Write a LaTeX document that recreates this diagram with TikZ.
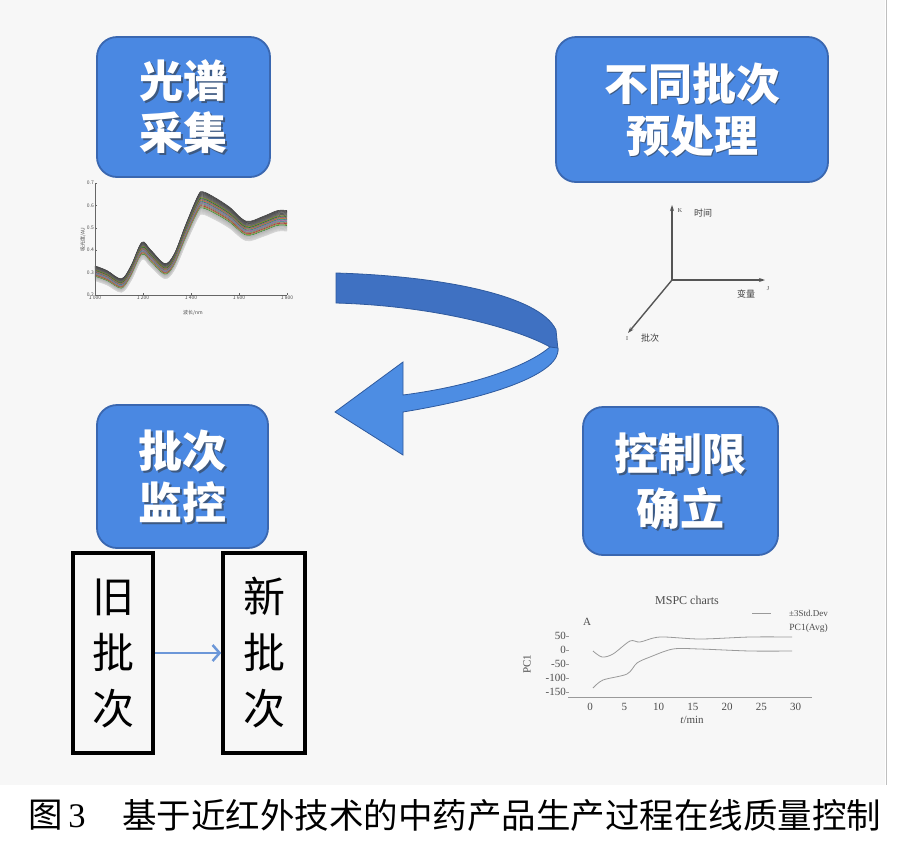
\documentclass[tikz,border=0pt]{standalone}
\usepackage{fontspec}
\usetikzlibrary{arrows.meta}
\newfontfamily\cjk{Noto Sans CJK SC}
\newfontfamily\serifA{Liberation Serif}
\definecolor{boxblue}{HTML}{4A88E2}
\definecolor{boxedge}{HTML}{3A67B0}
\definecolor{arrdark}{HTML}{3F71C2}
\definecolor{arrlight}{HTML}{4D8DE3}
\definecolor{arredge}{HTML}{2F5A9E}
\definecolor{thinblue}{HTML}{6C97D8}
\definecolor{chartgray}{HTML}{9A9A9A}
\definecolor{axgray}{HTML}{555555}
\begin{document}
\begin{tikzpicture}[x=1pt,y=-1pt,
  bluebox/.style={draw=boxedge, line width=1.8pt, fill=boxblue, rounded corners=20pt, inner sep=0pt},
  titletxt/.style={font=\cjk\bfseries\fontsize{44}{52}\selectfont, text=white, align=center, inner sep=0pt},
  titleshadow/.style={titletxt, text=black!80, opacity=0.55},
  batchbox/.style={draw=black, line width=3.5pt, minimum width=80pt, minimum height=200pt, inner sep=0pt},
  batchtxt/.style={font=\cjk\fontsize{42}{56}\selectfont, align=center, inner sep=0pt},
  tinylab/.style={font=\cjk\fontsize{5}{5}\selectfont, text=black!70, inner sep=1pt},
  axlab/.style={font=\cjk\fontsize{9}{9}\selectfont, text=black!75, inner sep=0pt},
  axletter/.style={font=\serifA\fontsize{6}{6}\selectfont, text=black!75, inner sep=0pt},
  chartlab/.style={font=\serifA\fontsize{11}{11}\selectfont, text=black!70, inner sep=0pt},
  chartline/.style={draw=chartgray, line width=0.8pt},
  axarrow/.style={draw=axgray, line width=1.4pt, -{Stealth[length=6pt,width=4pt]}},
  captxt/.style={inner sep=0pt, anchor=west, font=\cjk\fontsize{34.5}{36}\selectfont}
]
\useasboundingbox (0,0) rectangle (900,847);
% background
\fill[black!3] (0,0) rectangle (885,785);
\draw[black!25, line width=1pt] (886,0) -- (886,785);

% ---- blue title boxes ----
\node[bluebox, minimum width=173pt, minimum height=140pt] (b1) at (183.5,107) {};
\node[titleshadow] (s1) at ([shift={(1.5,1.8)}]b1.center) {光谱\\采集};
\node[titletxt] (t1) at (b1.center) {光谱\\采集};

\node[bluebox, minimum width=272pt, minimum height=145pt] (b2) at (692,109.5) {};
\node[titleshadow] (s2) at ([shift={(1.5,1.8)}]b2.center) {不同批次\\预处理};
\node[titletxt] (t2) at (b2.center) {不同批次\\预处理};

\node[bluebox, minimum width=171pt, minimum height=143pt] (b3) at (182.5,476.5) {};
\node[titleshadow] (s3) at ([shift={(1.5,1.8)}]b3.center) {批次\\监控};
\node[titletxt] (t3) at (b3.center) {批次\\监控};

\node[bluebox, minimum width=195pt, minimum height=148pt] (b4) at (680.5,481) {};
\node[titleshadow] (s4) at ([shift={(1.5,1.8)}]b4.center) {控制限\\[3pt]确立};
\node[titletxt] (t4) at (b4.center) {控制限\\[3pt]确立};

% ---- curved arrow ----
\fill[arrdark, draw=arredge, line width=0.8pt]
  (336,273) .. controls (440,276) and (540,295) .. (556,330) -- (558,350)
  -- (550,347) .. controls (520,330) and (440,306) .. (336,303) -- cycle;
\fill[arrlight, draw=arredge, line width=0.8pt]
  (558,348) .. controls (561,372) and (500,396) .. (403,412) -- (403,455) -- (335,412)
  -- (403,362) -- (403,395) .. controls (480,385) and (530,364) .. (550,347) -- cycle;

% ---- spectrum ----
\begin{scope}[shift={(95,339.8)}, x=0.24pt, y=224pt]
  \foreach \i in {0,...,44}{
    \pgfmathsetmacro\o{0.5-\i*0.025}
    \pgfmathsetmacro\g{int(75-\i*1.3)}
    \pgfmathparse{{"orange!85!black","red!70!black","teal","olive","violet!70","green!50!black","cyan!60!black","magenta!60!black","brown!80!black"}[mod(\i,9)]}
    \edef\cc{\pgfmathresult}
    \ifnum\i>11 \ifnum\i<33 \ifodd\i \edef\cc{black!\g}\fi \else \edef\cc{black!\g}\fi \else \edef\cc{black!\g}\fi
    \draw[\cc, line width=0.6pt, shift={(0,{(\o)*0.03})}, yscale={1+(\o)*0.1}]
      plot[smooth, tension=0.55] coordinates {(0,0.30) (50,0.28) (110,0.245) (150,0.30)
        (195,0.40) (230,0.37) (290,0.31) (330,0.35) (380,0.48) (430,0.60) (450,0.615)
        (500,0.59) (560,0.55) (630,0.49) (700,0.51) (760,0.535) (800,0.535)};
  }
  \draw[black!60, line width=0.5pt] (0,0.7) -- (0,0.2) -- (800,0.2);
  \foreach \v [count=\i] in {0.2,0.3,0.4,0.5,0.6,0.7}{
    \draw[black!60, line width=0.4pt] (0,\v) -- (8,\v);
    \node[tinylab, anchor=east] (yl\i) at (0,\v) {\v};
  }
  \foreach \xx/\lab [count=\i] in {0/1 000, 200/1 200, 400/1 400, 600/1 600, 800/1 800}{
    \draw[black!60, line width=0.4pt] (\xx,0.2) -- (\xx,0.21);
    \node[tinylab, anchor=north] (xl\i) at (\xx,0.2) {\lab};
  }
\end{scope}
\node[tinylab, rotate=90] (sy) at (83,240) {吸光度/AU};
\node[tinylab] (sx) at (193,313) {波长/nm};

% ---- 3D axes ----
\coordinate (O) at (672,280);
\coordinate (Ot) at (672,205);
\coordinate (Or) at (765,280);
\coordinate (Od) at (628,333);
\draw[axarrow] (O) -- (Ot);
\draw[axarrow] (O) -- (Or);
\draw[axarrow] (O) -- (Od);
\node[axletter] (kt) at (680,211) {K};
\node[axlab] (lt) at (703,213) {时间};
\node[axlab] (lr) at (746,294) {变量};
\node[axletter] (kr) at (768,289) {J};
\node[axletter] (kd) at (627,339) {I};
\node[axlab] (ld) at (650,338) {批次};

% ---- MSPC chart ----
\node[chartlab, font=\serifA\fontsize{12}{12}\selectfont] (mt) at (687,600) {MSPC charts};
\coordinate (lg1) at (752,613);
\coordinate (lg2) at (771,613);
\draw[chartline] (lg1) -- (lg2);
\node[chartlab, font=\serifA\fontsize{9}{9}\selectfont, anchor=east] (lgA) at (828,613) {±3Std.Dev};
\node[chartlab, font=\serifA\fontsize{9.5}{9.5}\selectfont, anchor=east] (lgB) at (828,628) {PC1(Avg)};
\node[chartlab] (mA) at (587,622) {A};
\node[chartlab, rotate=90] (mY) at (527,664) {PC1};
\foreach \v/\yy [count=\i] in {50/636, 0/650, -50/664, -100/678, -150/692}{
  \node[chartlab, anchor=east] (my\i) at (566,\yy) {\v};
  \draw[chartgray, line width=0.6pt] (566,\yy) -- (569,\yy);
}
\draw[chartgray, line width=1pt] (568,697) -- (812,697);
\foreach \t [count=\i] in {0,5,10,15,20,25,30}{
  \node[chartlab, anchor=north] (mx\i) at ({590+6.85*\t},703) {\t};
}
\node[chartlab] (mxl) at (692,720) {\textit{t}/min};
\draw[chartline] plot[smooth, tension=0.5] coordinates {(593,651) (602,657) (613,654) (630,641)
  (640,642) (660,637) (700,639) (750,637) (792,637)};
\draw[chartline] plot[smooth, tension=0.5] coordinates {(593,688) (603,680) (627,674) (637,663)
  (650,657) (673,649) (700,649) (750,651) (792,651)};

% ---- old / new batch ----
\node[batchbox] (old) at (113,653) {};
\node[batchtxt] (oldt) at (old.center) {旧\\批\\次};
\node[batchbox, minimum width=82pt] (new) at (264,653) {};
\node[batchtxt] (newt) at (new.center) {新\\批\\次};
\draw[thinblue, line width=2.5pt, -{Straight Barb[length=7pt,width=16pt]}] (old.east) -- (new.west);

% ---- caption ----
\node[captxt] (capn) at (28,815) {图\,{\serifA 3}};
\node[captxt] (capt) at (122,815) {基于近红外技术的中药产品生产过程在线质量控制};
\end{tikzpicture}
\end{document}
